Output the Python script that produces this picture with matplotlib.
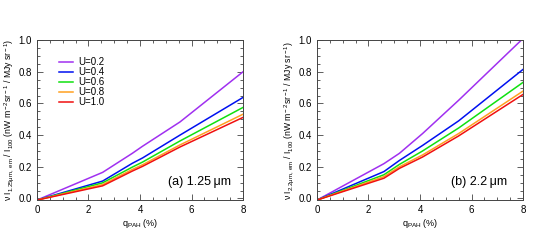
import numpy as np
import matplotlib.pyplot as plt
from matplotlib.ticker import MultipleLocator

plt.rcParams['font.family'] = ['Liberation Sans', 'DejaVu Sans']
plt.rcParams['mathtext.fontset'] = 'custom'
plt.rcParams['mathtext.rm'] = 'Liberation Sans'
plt.rcParams['mathtext.it'] = 'Liberation Sans:italic'

u_labels = ["U=0.2", "U=0.4", "U=0.6", "U=0.8", "U=1.0"]
colors = ["#a030f0", "#0010f0", "#10e010", "#ffa020", "#f01010"]

# panel (a) 1.25 um
q_125 = [0.0, 2.55, 3.7, 4.1, 5.55, 8.0]
band_125 = [
    [-0.01, 0.165, 0.285, 0.33, 0.483, 0.80],
    [-0.01, 0.11, 0.222, 0.256, 0.40, 0.638],
    [-0.01, 0.099, 0.198, 0.23, 0.363, 0.575],
    [-0.01, 0.088, 0.183, 0.213, 0.338, 0.532],
    [-0.01, 0.08, 0.173, 0.203, 0.325, 0.512],
]

# panel (b) 2.2 um
q_22 = [0.0, 2.6, 3.2, 4.1, 5.5, 8.0]
band_22 = [
    [-0.01, 0.22, 0.285, 0.41, 0.62, 1.01],
    [-0.01, 0.17, 0.24, 0.335, 0.49, 0.815],
    [-0.01, 0.15, 0.215, 0.30, 0.445, 0.733],
    [-0.01, 0.138, 0.20, 0.275, 0.41, 0.678],
    [-0.01, 0.128, 0.19, 0.262, 0.395, 0.657],
]

ylabels = [r"ν I$_{\rm 1.25μm,\ em}$ / I$_{\rm 100}$ (nW m$^{\rm -2}$sr$^{\rm -1}$ / MJy sr$^{\rm -1}$)",
           r"ν I$_{\rm 2.2μm,\ em}$ / I$_{\rm 100}$ (nW m$^{\rm -2}$sr$^{\rm -1}$ / MJy sr$^{\rm -1}$)"]
tags = ["(a) 1.25\u2009μm", "(b) 2.2\u2009μm"]

fig = plt.figure(figsize=(5.6, 2.4), dpi=100)
lefts = [0.066, 0.566]

for i, (q, data) in enumerate([(q_125, band_125), (q_22, band_22)]):
    ax = fig.add_axes([lefts[i], 0.165, 0.368, 0.668])
    for vals, c, lab in zip(data, colors, u_labels):
        ax.plot(q, vals, color=c, lw=1.1, label=lab)
    ax.set_xlim(0, 8)
    ax.set_ylim(-0.012, 1.0)
    ax.xaxis.set_major_locator(MultipleLocator(2))
    ax.xaxis.set_minor_locator(MultipleLocator(0.5))
    ax.yaxis.set_major_locator(MultipleLocator(0.2))
    ax.yaxis.set_minor_locator(MultipleLocator(0.05))
    ax.yaxis.set_major_formatter(plt.FormatStrFormatter('%.1f'))
    ax.tick_params(which='both', direction='in', top=True, right=True,
                   labelsize=7, width=0.6, color='#444444')
    ax.tick_params(which='major', length=4)
    ax.tick_params(which='minor', length=2)
    for s in ax.spines.values():
        s.set_linewidth(0.7)
        s.set_color('#444444')
    ax.set_xlabel(r"q$_{\rm PAH}$ (%)", fontsize=6.5, labelpad=1)
    ax.set_ylabel(ylabels[i], fontsize=6.2, labelpad=2)
    ax.text(6.3, 0.105, tags[i], fontsize=9, ha='center', va='center')
    if i == 0:
        ax.legend(loc='upper left', bbox_to_anchor=(0.105, 0.895), frameon=False,
                  fontsize=7, handlelength=1.5, handletextpad=0.5,
                  labelspacing=0.0, borderaxespad=0, borderpad=0)

fig.savefig("out.png", dpi=100)
